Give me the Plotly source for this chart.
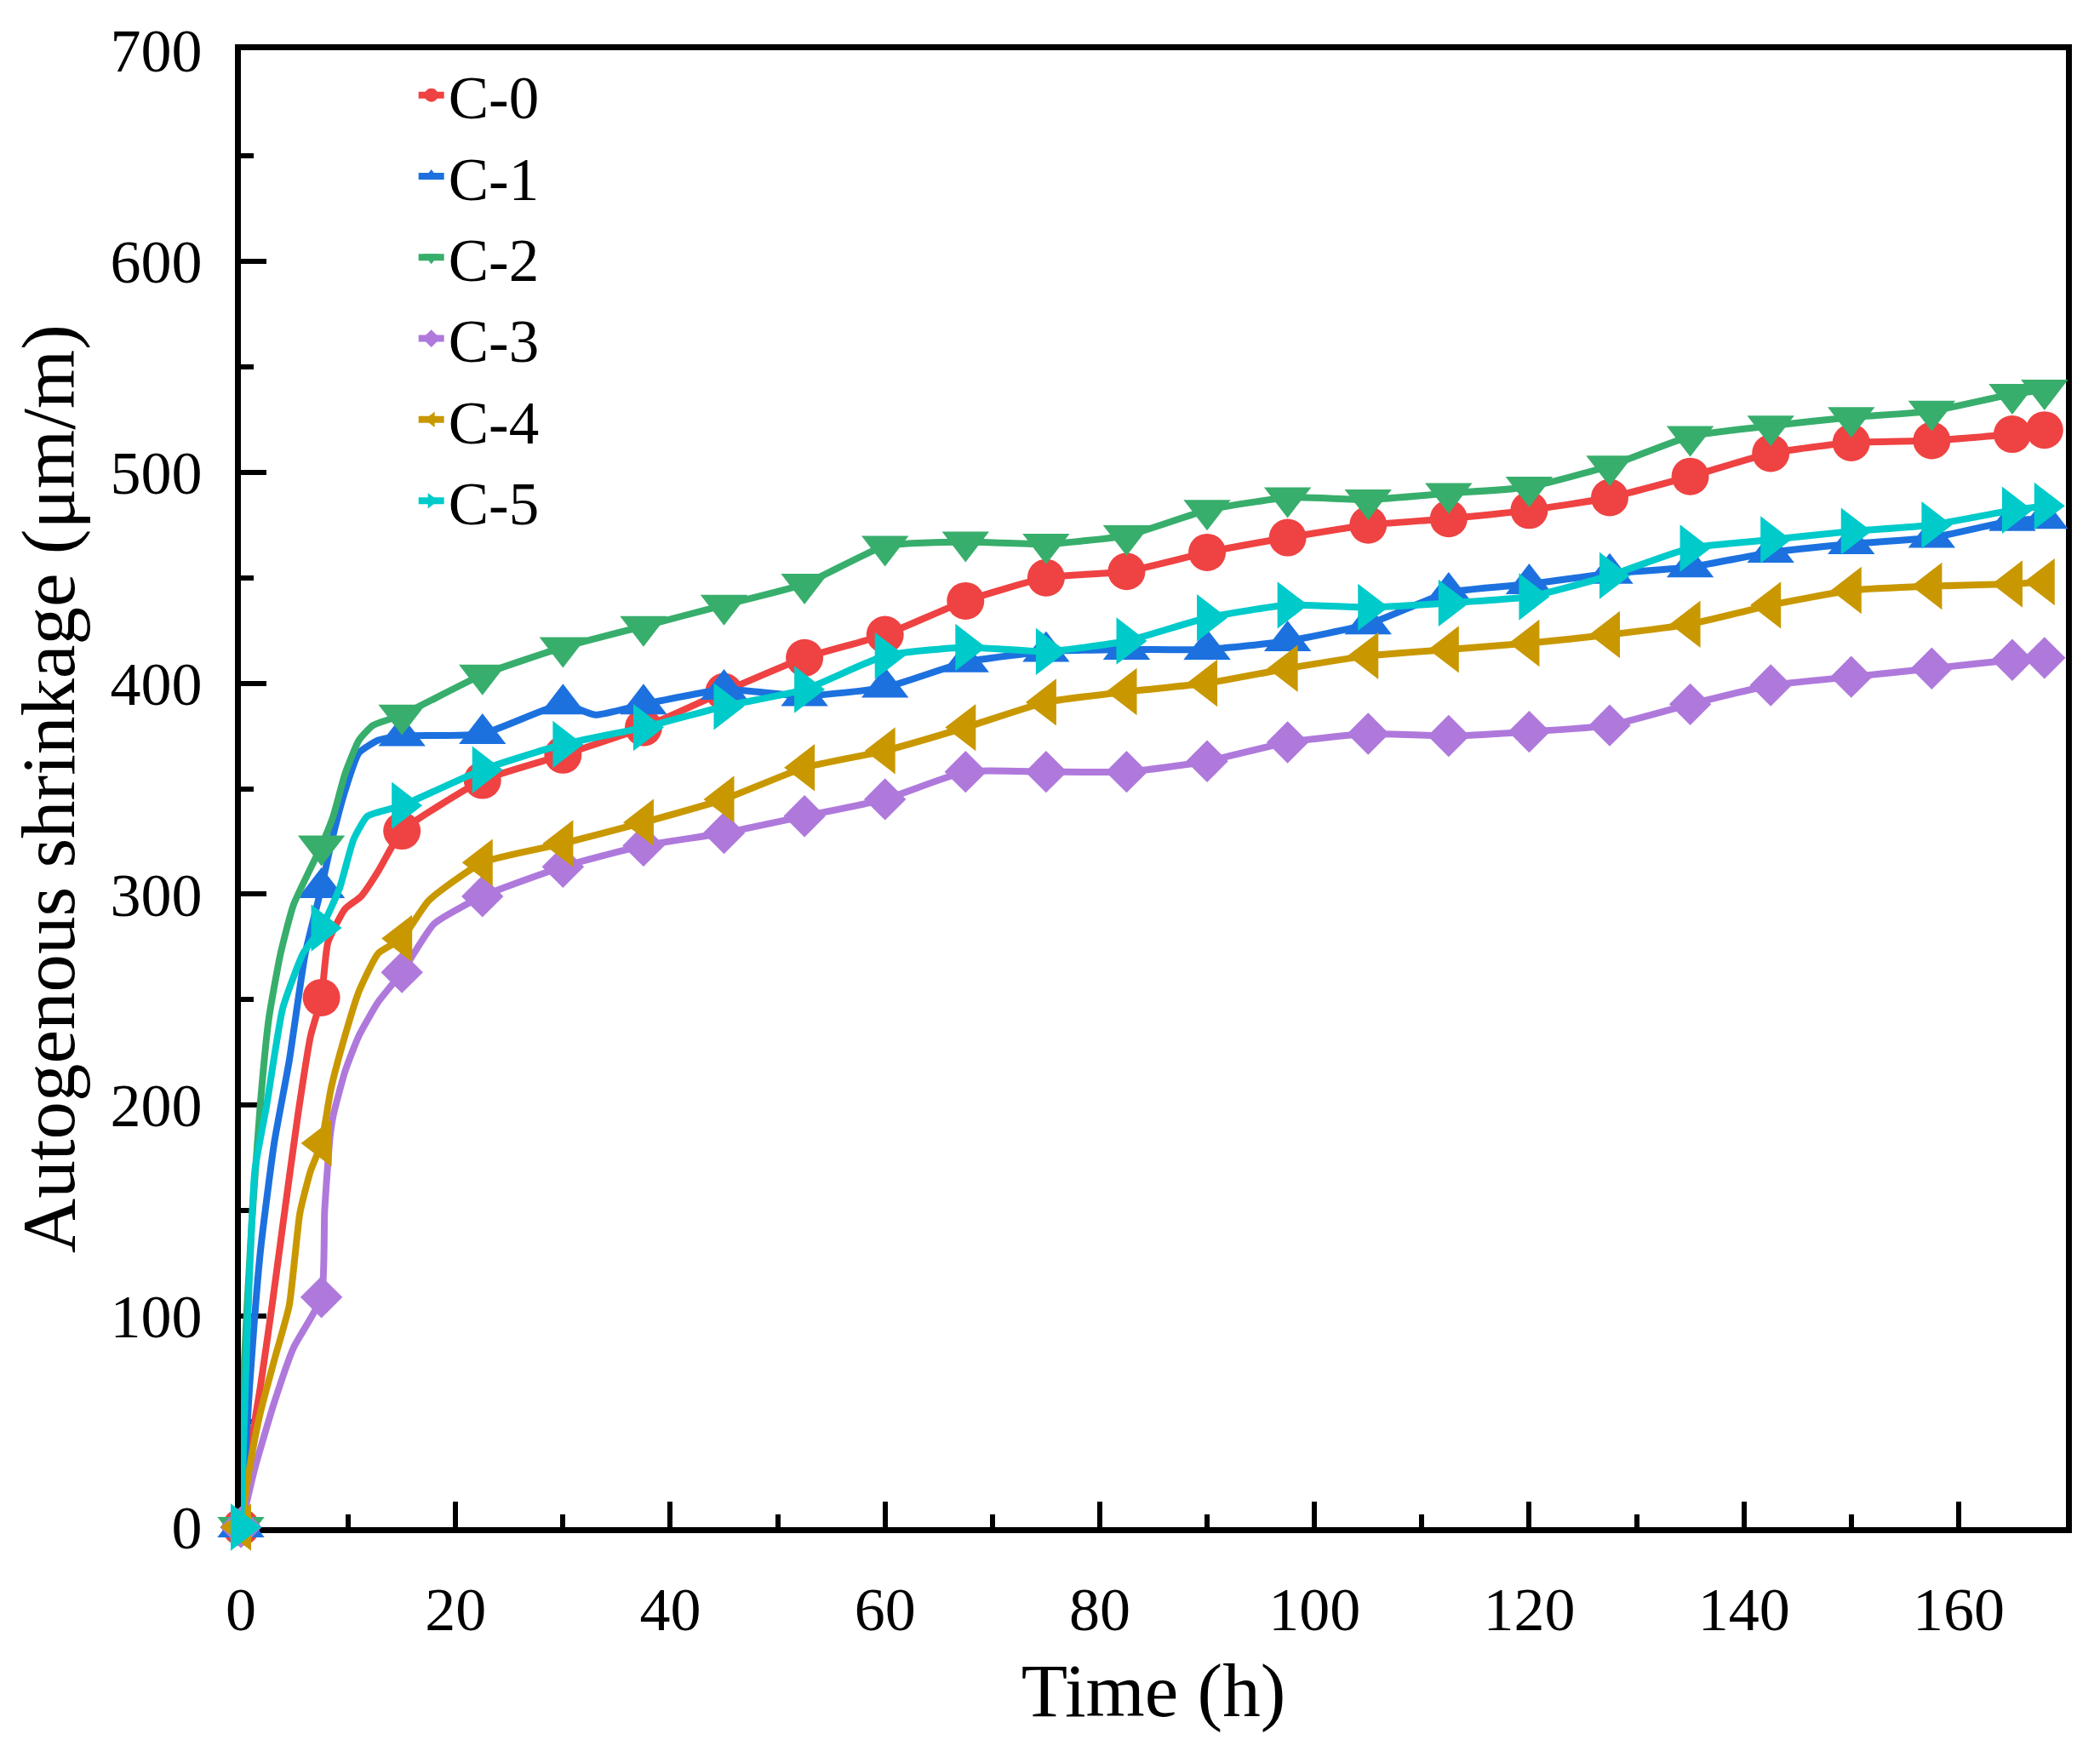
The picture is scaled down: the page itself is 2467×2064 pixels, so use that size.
import plotly.graph_objects as go

# ---------------- data ----------------
series_names = ["C-0", "C-1", "C-2", "C-3", "C-4", "C-5"]

# sampled times that carry a marker (h)
t_markers = [0, 7.5, 15, 22.5, 30, 37.5, 45, 52.5, 60, 67.5, 75, 82.5, 90, 97.5,
             105, 112.5, 120, 127.5, 135, 142.5, 150, 157.5, 165, 168]

c0_markers = [0, 251, 330, 354, 366, 379, 396, 412, 423, 439, 450, 453, 462, 469,
              475, 478, 482, 488, 498, 509, 514, 515, 518, 520]
c1_markers = [0, 303, 375, 376, 390, 390, 397, 394, 398, 410, 415, 416, 416, 420,
              428, 443, 447, 452, 455, 462, 466, 469, 477, 478]
c2_markers = [0, 323, 385, 404, 417, 427, 437, 447, 465, 467, 466, 470, 482, 488,
              487, 490, 493, 503, 517, 522, 526, 529, 537, 539]
c3_markers = [0, 109, 263, 299, 313, 323, 329, 337, 345, 358, 358, 358, 363, 372,
              376, 375, 377, 380, 390, 399, 403, 407, 411, 412]
c4_markers = [0, 182, 279, 315, 324, 334, 345, 360, 368, 379, 391, 396, 400, 407,
              413, 416, 419, 423, 428, 437, 444, 446, 447, 448]
c5_markers = [0, 284, 342, 359, 371, 379, 389, 397, 413, 417, 415, 420, 431, 437,
              436, 438, 441, 451, 464, 468, 472, 475, 482, 484]

# additional recorded points of the continuous curves (no marker)
c0_extra_t = [0.8, 1.8, 2.9, 3.9, 5.3, 6.5, 8.1, 9.7, 11.2, 12.8, 13.9]
c0_extra_v = [35, 66, 105, 143, 195, 233, 277, 293, 299, 311, 321]
c1_extra_t = [0.8, 1.8, 3.1, 4.5, 6.0, 8.4, 9.7, 11.0, 12.8, 33.0]
c1_extra_v = [66, 130, 182, 221, 272, 324, 349, 367, 373, 385]
c2_extra_t = [0.2, 1.0, 1.8, 2.6, 3.7, 4.9, 8.6, 9.7, 11.0, 12.3]
c2_extra_v = [66, 143, 200, 241, 272, 295, 337, 357, 373, 380]
c3_extra_t = [1.3, 3.1, 4.9, 7.8, 8.3, 8.6, 9.7, 11.0, 12.8, 18.0]
c3_extra_v = [28, 59, 85, 150, 185, 195, 216, 233, 249, 286]
c4_extra_t = [0.8, 1.8, 3.1, 4.5, 5.5, 6.5, 8.4, 9.7, 11.0, 12.8, 17.5]
c4_extra_v = [28, 54, 79, 105, 149, 169, 208, 233, 254, 272, 297]
c5_extra_t = [0.5, 1.3, 2.4, 3.9, 5.8, 9.2, 10.5, 11.8]
c5_extra_v = [80, 169, 200, 246, 272, 303, 326, 337]

marker_values = [c0_markers, c1_markers, c2_markers, c3_markers, c4_markers, c5_markers]
extra_t = [c0_extra_t, c1_extra_t, c2_extra_t, c3_extra_t, c4_extra_t, c5_extra_t]
extra_v = [c0_extra_v, c1_extra_v, c2_extra_v, c3_extra_v, c4_extra_v, c5_extra_v]

# ---------------- style ----------------
colors = ["#EF4242", "#1C71DF", "#38AE6C", "#AF79DC", "#C99800", "#00CACA"]
symbols = ["circle", "triangle-up", "triangle-down", "diamond", "triangle-left", "triangle-right"]
msizes = [44, 48, 48, 38, 48, 48]
FONT = "Liberation Serif, Times New Roman, serif"

fig = go.Figure()
for i, name in enumerate(series_names):
    pts = [(t, v, True) for t, v in zip(t_markers, marker_values[i])]
    pts += [(t, v, False) for t, v in zip(extra_t[i], extra_v[i])]
    pts.sort(key=lambda p: p[0])
    xs = [p[0] for p in pts]
    ys = [p[1] for p in pts]
    sz = [msizes[i] if p[2] else 0 for p in pts]
    fig.add_trace(go.Scatter(
        x=xs, y=ys, name=name, mode="lines+markers",
        line=dict(color=colors[i], width=8, shape="spline", smoothing=0.5),
        marker=dict(symbol=symbols[i], size=sz, color=colors[i], opacity=1,
                    line=dict(width=0)),
        cliponaxis=False,
    ))

axis_common = dict(
    showgrid=False, zeroline=False,
    showline=True, linecolor="black", linewidth=7, mirror=True,
    ticks="inside", ticklen=30, tickwidth=6, tickcolor="black",
    tickfont=dict(family=FONT, size=72, color="black"),
    layer="below traces",
)

fig.update_layout(
    width=2467, height=2064,
    margin=dict(l=275, r=48, t=49, b=278),
    paper_bgcolor="white", plot_bgcolor="white",
    font=dict(family=FONT, color="black"),
    xaxis=dict(
        range=[0, 170], tick0=0, dtick=20,
        minor=dict(dtick=10, ticks="inside", ticklen=15, tickwidth=6, tickcolor="black"),
        ticklabelstandoff=28,
        title=dict(text="Time (h)", font=dict(family=FONT, size=89, color="black"), standoff=26),
        **axis_common,
    ),
    yaxis=dict(
        range=[0, 700], tick0=0, dtick=100,
        minor=dict(dtick=50, ticks="inside", ticklen=15, tickwidth=6, tickcolor="black"),
        ticklabelstandoff=24,
        title=dict(text="Autogenous shrinkage (μm/m)", font=dict(family=FONT, size=89, color="black"), standoff=29),
        **axis_common,
    ),
    legend=dict(
        x=0.095, y=1.0, xanchor="left", yanchor="top",
        bgcolor="rgba(0,0,0,0)",
        font=dict(family=FONT, size=71, color="black"),
        tracegroupgap=0,
    ),
    showlegend=True,
)

fig.write_html("out.html")
